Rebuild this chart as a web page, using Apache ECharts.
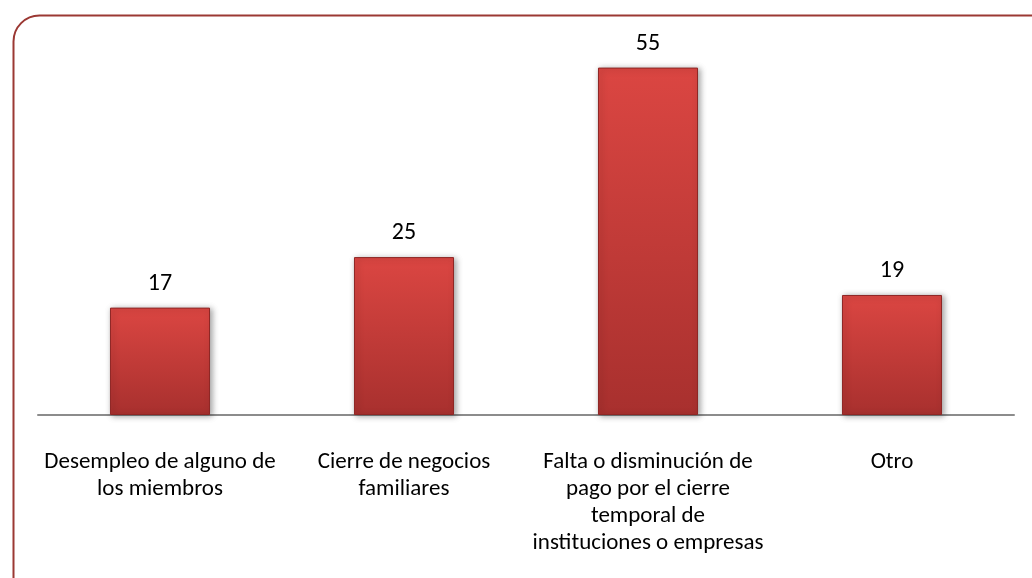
<!DOCTYPE html>
<html>
<head>
<meta charset="utf-8">
<script src="https://cdn.jsdelivr.net/npm/echarts@6/dist/echarts.min.js"></script>
<style>
  html, body { margin: 0; padding: 0; background: #fff; }
  #main { width: 1032px; height: 578px; }
</style>
</head>
<body>
<div id="main"></div>
<script>
// categorías y valores
var categorias = [
  'Desempleo de alguno de\nlos miembros',
  'Cierre de negocios\nfamiliares',
  'Falta o disminución de\npago por el cierre\ntemporal de\ninstituciones o empresas',
  'Otro'
];
var valores = [17, 25, 55, 19];

var fuente = 'Carlito, Calibri, "Liberation Sans", sans-serif';

var chart = echarts.init(document.getElementById('main'));
chart.setOption({
  backgroundColor: '#fff',
  animation: false,
  graphic: [{
    type: 'rect',
    left: 11,
    top: 13,
    shape: { width: 1060, height: 600, r: 26 },
    style: { fill: 'none', stroke: '#9B3833', lineWidth: 2 },
    z: -1
  }],
  grid: { left: 38, right: 18, top: 36, bottom: 163 },
  xAxis: {
    type: 'category',
    data: categorias,
    axisLine: { lineStyle: { color: '#8c8c8c', width: 2 } },
    axisTick: { show: false },
    axisLabel: {
      interval: 0,
      margin: 34,
      color: '#000',
      fontSize: 23,
      lineHeight: 27,
      fontFamily: fuente
    }
  },
  yAxis: {
    type: 'value',
    min: 0,
    max: 60,
    show: false,
    splitLine: { show: false }
  },
  series: [{
    type: 'bar',
    data: valores,
    barWidth: '41%',
    itemStyle: {
      color: new echarts.graphic.LinearGradient(0, 0, 0, 1, [
        { offset: 0, color: '#DB4642' },
        { offset: 1, color: '#A8302E' }
      ]),
      borderColor: '#8E2624',
      borderWidth: 1,
      shadowColor: 'rgba(0,0,0,0.35)',
      shadowBlur: 6,
      shadowOffsetX: 2,
      shadowOffsetY: 1
    },
    label: {
      show: true,
      position: 'top',
      distance: 12,
      color: '#000',
      fontSize: 24,
      fontFamily: fuente
    }
  }]
});
</script>
</body>
</html>
